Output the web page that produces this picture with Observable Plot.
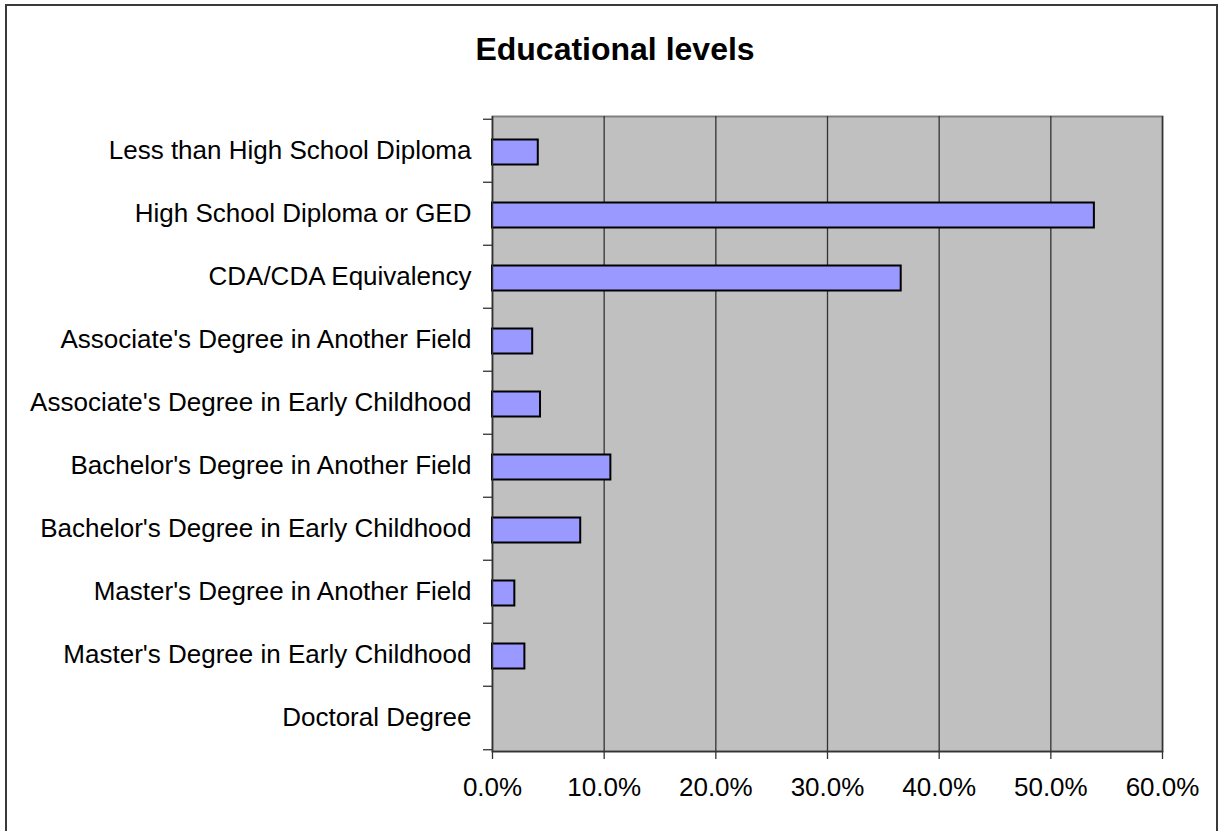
<!DOCTYPE html>
<html>
<head>
<meta charset="utf-8">
<script src="https://cdn.jsdelivr.net/npm/d3@7"></script>
<script src="https://cdn.jsdelivr.net/npm/@observablehq/plot@0.6"></script>
<style>
  html, body { margin: 0; padding: 0; background: #fff; overflow: hidden; }
  #wrap { position: relative; width: 1221px; height: 831px; overflow: hidden; }
  #border { position: absolute; left: 5px; top: 4px; width: 1209px; height: 900px; border: 2px solid #3a3a3a; }
  #title { position: relative; height: 100px; box-sizing: border-box; padding-top: 33px; padding-left: 9px;
           text-align: center; font: bold 32px/32px "Liberation Sans", Arial, sans-serif; color: #000; }
  #chart svg { display: block; }
</style>
</head>
<body>
<div id="wrap">
  <div id="border"></div>
  <div id="title">Educational levels</div>
  <div id="chart"></div>
</div>
<script>
const categories = [
  "Less than High School Diploma",
  "High School Diploma or GED",
  "CDA/CDA Equivalency",
  "Associate's Degree in Another Field",
  "Associate's Degree in Early Childhood",
  "Bachelor's Degree in Another Field",
  "Bachelor's Degree in Early Childhood",
  "Master's Degree in Another Field",
  "Master's Degree in Early Childhood",
  "Doctoral Degree"
];
const shares = [0.041, 0.539, 0.366, 0.036, 0.043, 0.106, 0.079, 0.020, 0.029, 0.0];
const xTicks = [0, 0.1, 0.2, 0.3, 0.4, 0.5, 0.6];

const data = categories.map((c, i) => ({category: c, share: shares[i]}));

const W = 1221, H = 731, mT = 16, mB = 80, mL = 492, mR = 59;
const bw = (H - mT - mB) / categories.length;
const font = "Liberation Sans, Arial, sans-serif";

const chart = Plot.plot({
  width: W,
  height: H,
  marginTop: mT,
  marginBottom: mB,
  marginLeft: mL,
  marginRight: mR,
  style: {fontFamily: font, fontSize: "26px", color: "#000", background: "transparent", overflow: "visible"},
  x: {domain: [0, 0.6], axis: null},
  y: {domain: categories, padding: 0, axis: null},
  marks: [
    Plot.frame({fill: "#c0c0c0", stroke: "#808080", strokeWidth: 2}),
    Plot.gridX(xTicks.slice(1), {stroke: "#333", strokeOpacity: 1, strokeWidth: 1.3}),
    Plot.barX(data, {
      y: "category", x: "share",
      fill: "#9999ff", stroke: "#000", strokeWidth: 2,
      insetTop: 20.5, insetBottom: 17.5
    }),
    Plot.ruleX([0], {stroke: "#333", strokeWidth: 1.5}),
    Plot.frame({anchor: "bottom", stroke: "#333", strokeWidth: 1.5}),
    // category labels
    Plot.axisY({tickSize: 0, tickPadding: 21, fontSize: 26, fill: "#000", label: null}),
    // boundary ticks (top of each band)
    Plot.axisY({tickSize: 9, tickFormat: () => "", dy: -bw / 2, stroke: "#333", strokeWidth: 1.3, label: null}),
    // bottom boundary tick
    Plot.axisY({ticks: [categories[categories.length - 1]], tickSize: 9, tickFormat: () => "", dy: bw / 2, stroke: "#333", strokeWidth: 1.3, label: null}),
    Plot.axisX({
      ticks: xTicks, tickFormat: d3.format(".1%"), tickSize: 8, tickPadding: 18.5,
      fontSize: 26, fill: "#000", stroke: "#333", strokeWidth: 1.3, label: null
    })
  ]
});
document.getElementById("chart").appendChild(chart);
</script>
</body>
</html>
